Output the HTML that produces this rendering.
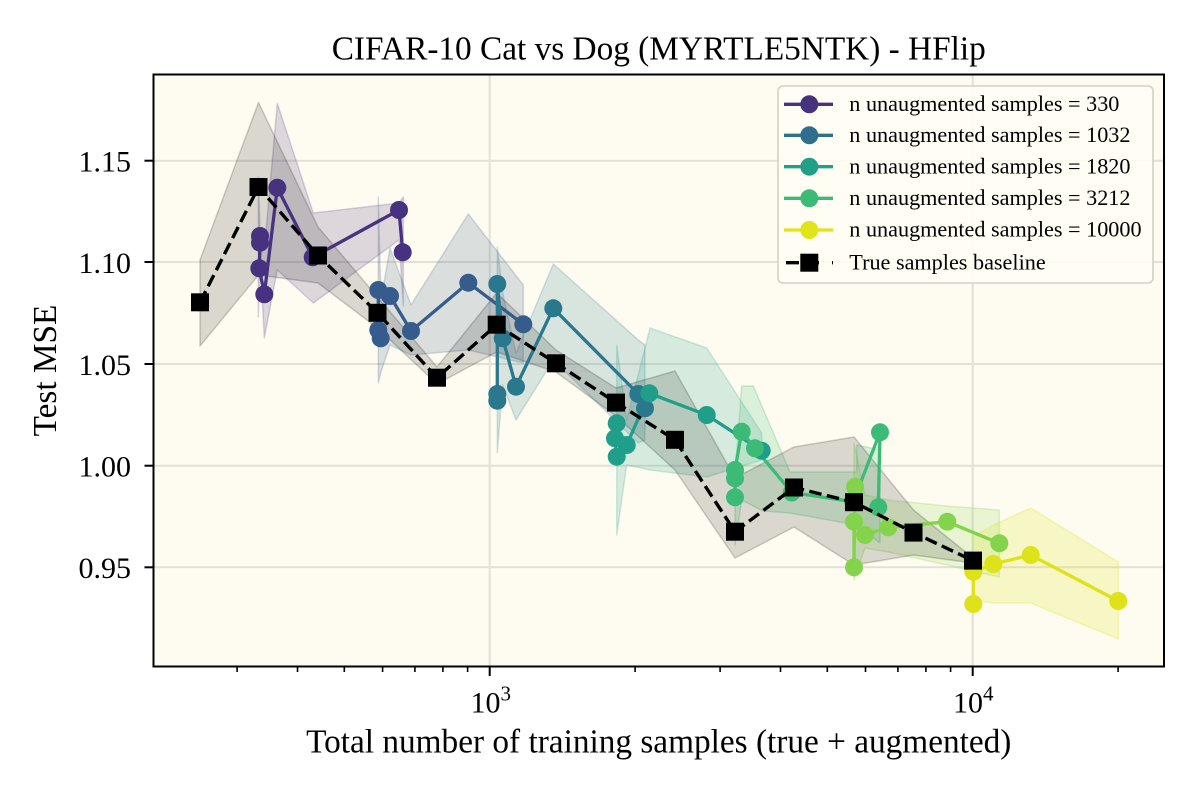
<!DOCTYPE html>
<html><head><meta charset="utf-8"><style>
html,body{margin:0;padding:0;background:#fff;}
svg{display:block;}
text{font-family:"Liberation Serif","Times New Roman",serif;fill:#000;}
</style></head><body>
<svg width="1200" height="800" viewBox="0 0 1200 800" xmlns="http://www.w3.org/2000/svg">
<rect x="0" y="0" width="1200" height="800" fill="#ffffff"/>
<rect x="153.5" y="74.5" width="1010.5" height="592" fill="#fefcf0"/>
<!-- grid -->
<g stroke="#e3e0d7" stroke-width="2">
<line x1="153.5" y1="160.7" x2="1164" y2="160.7"/>
<line x1="153.5" y1="262" x2="1164" y2="262"/>
<line x1="153.5" y1="364" x2="1164" y2="364"/>
<line x1="153.5" y1="465.7" x2="1164" y2="465.7"/>
<line x1="153.5" y1="567.3" x2="1164" y2="567.3"/>
<line x1="489.7" y1="74.5" x2="489.7" y2="666.5"/>
<line x1="972.7" y1="74.5" x2="972.7" y2="666.5"/>
</g>
<!-- bands -->
<g stroke-width="1.5" stroke-linejoin="round">
<polygon fill="#46327e" fill-opacity="0.18" stroke="#46327e" stroke-opacity="0.2" points="258.3,177 260,228 264.3,250 277.3,103.3 313.3,213 399,203 403.3,197 403.3,306 399,240 313.3,303 277.3,270 264.3,338 260,255 258.3,317"/>
<polygon fill="#365c8d" fill-opacity="0.18" stroke="#365c8d" stroke-opacity="0.2" points="378.3,197 381,300 390,248 411,305 468.3,214 523.3,285 523.3,363 468.3,350 411,355 390,345 381,372 378.3,383"/>
<polygon fill="#2a788e" fill-opacity="0.18" stroke="#2a788e" stroke-opacity="0.2" points="497.3,247 502.7,293 516,353 553.3,264 638.3,340 645,345 645,440 638.3,443 553.3,360 516,420 502.7,385 497.3,453"/>
<polygon fill="#1f9e89" fill-opacity="0.18" stroke="#1f9e89" stroke-opacity="0.2" points="616.7,345 626.7,420 650,328 706.7,348 761.7,433 761.7,460 706.7,477 650,470 626.7,465 616.7,535"/>
<polygon fill="#3bbb75" fill-opacity="0.18" stroke="#3bbb75" stroke-opacity="0.25" points="735,475 741.7,386 753.3,386 790,472 856.7,472 856.7,445 880,450 880,543 856.7,525 790,513 763,511 741.7,500 735,545"/>
<polygon fill="#84d44b" fill-opacity="0.18" stroke="#84d44b" stroke-opacity="0.25" points="854,443 865,495 888.3,500 946.7,506 999.3,510 999.3,577 946.7,565 888.3,552 865,548 854,580"/>
<polygon fill="#dde318" fill-opacity="0.2" stroke="#dde318" stroke-opacity="0.25" points="973.3,537 993.3,525 1030.7,508 1118.3,562 1118.3,639 1030.7,603 993.3,603 973.3,600"/>
<polygon fill="#000000" fill-opacity="0.14" stroke="#000000" stroke-opacity="0.18" points="200,260 258.5,102.5 318,227 377.5,297 437,367 496.7,293 556,350 616,388 675,371 735,478 794,447 854,437 913.5,510 973,558 973,563 913.5,555 854,565 794,527 735,558 675,470 616,416 556,372 496.7,352 437,384 377.5,328 318,283 258.5,275 200,346"/>
</g>
<!-- series -->
<g fill="none" stroke-width="3.3" stroke-linejoin="round">
<polyline stroke="#46327e" points="260,236 260,242.7 259.3,268.3 264.3,294.3 277.3,187.7 312.7,257.3 399,210 402.7,252.3"/>
<polyline stroke="#365c8d" points="380.7,338.3 378.3,330 378.3,290 390,296 411,331 468.3,282.7 523.3,324.3"/>
<polyline stroke="#2a788e" points="497.3,400.7 497.3,394 497.3,284 502.7,338.3 516,386.7 553.3,308.3 638.3,394 645,408.3"/>
<polyline stroke="#1f9e89" points="616.7,423.3 615,438.3 616.7,456.7 626.7,445 649.3,393.3 706.7,415 761.7,450.7"/>
<polyline stroke="#3bbb75" points="735,497.3 735,478.3 735,470 741.7,431.7 755,448.3 791.7,492.5 853.3,501.7 880,432.3 878.3,507.3"/>
<polyline stroke="#84d44b" points="855,486.7 854,567.3 854,521.7 865,535 888.3,527.3 947.3,521.7 999.3,543.3"/>
<polyline stroke="#dde318" points="973.3,604 973.3,571.7 993.3,564 1030.7,555 1118.3,601"/>
</g>
<g fill="#46327e">
<circle cx="260" cy="236" r="9"/><circle cx="260" cy="242.7" r="9"/><circle cx="259.3" cy="268.3" r="9"/><circle cx="264.3" cy="294.3" r="9"/><circle cx="277.3" cy="187.7" r="9"/><circle cx="312.7" cy="257.3" r="9"/><circle cx="399" cy="210" r="9"/><circle cx="402.7" cy="252.3" r="9"/>
</g>
<g fill="#365c8d">
<circle cx="380.7" cy="338.3" r="9"/><circle cx="378.3" cy="330" r="9"/><circle cx="378.3" cy="290" r="9"/><circle cx="390" cy="296" r="9"/><circle cx="411" cy="331" r="9"/><circle cx="468.3" cy="282.7" r="9"/><circle cx="523.3" cy="324.3" r="9"/>
</g>
<g fill="#2a788e">
<circle cx="497.3" cy="400.7" r="9"/><circle cx="497.3" cy="394" r="9"/><circle cx="497.3" cy="284" r="9"/><circle cx="502.7" cy="338.3" r="9"/><circle cx="516" cy="386.7" r="9"/><circle cx="553.3" cy="308.3" r="9"/><circle cx="638.3" cy="394" r="9"/><circle cx="645" cy="408.3" r="9"/>
</g>
<g fill="#1f9e89">
<circle cx="616.7" cy="423.3" r="9"/><circle cx="615" cy="438.3" r="9"/><circle cx="616.7" cy="456.7" r="9"/><circle cx="626.7" cy="445" r="9"/><circle cx="649.3" cy="393.3" r="9"/><circle cx="706.7" cy="415" r="9"/><circle cx="761.7" cy="450.7" r="9"/>
</g>
<g fill="#3bbb75">
<circle cx="735" cy="497.3" r="9"/><circle cx="735" cy="478.3" r="9"/><circle cx="735" cy="470" r="9"/><circle cx="741.7" cy="431.7" r="9"/><circle cx="755" cy="448.3" r="9"/><circle cx="791.7" cy="492.5" r="9"/><circle cx="853.3" cy="501.7" r="9"/><circle cx="880" cy="432.3" r="9"/><circle cx="878.3" cy="507.3" r="9"/>
</g>
<g fill="#84d44b">
<circle cx="855" cy="486.7" r="9"/><circle cx="854" cy="567.3" r="9"/><circle cx="854" cy="521.7" r="9"/><circle cx="865" cy="535" r="9"/><circle cx="888.3" cy="527.3" r="9"/><circle cx="947.3" cy="521.7" r="9"/><circle cx="999.3" cy="543.3" r="9"/>
</g>
<g fill="#dde318">
<circle cx="973.3" cy="604" r="9"/><circle cx="973.3" cy="571.7" r="9"/><circle cx="993.3" cy="564" r="9"/><circle cx="1030.7" cy="555" r="9"/><circle cx="1118.3" cy="601" r="9"/>
</g>
<!-- baseline -->
<polyline fill="none" stroke="#000" stroke-width="3.4" stroke-dasharray="12.5 5.5" points="200,302.3 258.5,187 318,255.5 377.5,312.8 437,377.7 496.7,324.7 556,363.3 616,402.6 675,439.8 735,531.7 794,487.5 854,502.2 913.5,532.6 973,560.6"/>
<g fill="#000">
<rect x="191" y="293.3" width="18" height="18"/><rect x="249.5" y="178" width="18" height="18"/><rect x="309" y="246.5" width="18" height="18"/><rect x="368.5" y="303.8" width="18" height="18"/><rect x="428" y="368.7" width="18" height="18"/><rect x="487.7" y="315.7" width="18" height="18"/><rect x="547" y="354.3" width="18" height="18"/><rect x="607" y="393.6" width="18" height="18"/><rect x="666" y="430.8" width="18" height="18"/><rect x="726" y="522.7" width="18" height="18"/><rect x="785" y="478.5" width="18" height="18"/><rect x="845" y="493.2" width="18" height="18"/><rect x="904.5" y="523.6" width="18" height="18"/><rect x="964" y="551.6" width="18" height="18"/>
</g>
<!-- axes frame -->
<rect x="153.5" y="74.5" width="1010.5" height="592" fill="none" stroke="#000" stroke-width="2"/>
<!-- ticks -->
<g stroke="#000" stroke-width="2">
<line x1="144.5" y1="160.7" x2="153.5" y2="160.7"/>
<line x1="144.5" y1="262" x2="153.5" y2="262"/>
<line x1="144.5" y1="364" x2="153.5" y2="364"/>
<line x1="144.5" y1="465.7" x2="153.5" y2="465.7"/>
<line x1="144.5" y1="567.3" x2="153.5" y2="567.3"/>
<line x1="489.7" y1="666.5" x2="489.7" y2="676"/>
<line x1="972.7" y1="666.5" x2="972.7" y2="676"/>
</g>
<g stroke="#000" stroke-width="1.6">
<line x1="237.1" y1="666.5" x2="237.1" y2="672"/>
<line x1="297.5" y1="666.5" x2="297.5" y2="672"/>
<line x1="344.3" y1="666.5" x2="344.3" y2="672"/>
<line x1="382.6" y1="666.5" x2="382.6" y2="672"/>
<line x1="414.9" y1="666.5" x2="414.9" y2="672"/>
<line x1="442.9" y1="666.5" x2="442.9" y2="672"/>
<line x1="467.6" y1="666.5" x2="467.6" y2="672"/>
<line x1="635.1" y1="666.5" x2="635.1" y2="672"/>
<line x1="720.1" y1="666.5" x2="720.1" y2="672"/>
<line x1="780.5" y1="666.5" x2="780.5" y2="672"/>
<line x1="827.3" y1="666.5" x2="827.3" y2="672"/>
<line x1="865.5" y1="666.5" x2="865.5" y2="672"/>
<line x1="897.9" y1="666.5" x2="897.9" y2="672"/>
<line x1="925.9" y1="666.5" x2="925.9" y2="672"/>
<line x1="950.6" y1="666.5" x2="950.6" y2="672"/>
<line x1="1118.1" y1="666.5" x2="1118.1" y2="672"/>
</g>
<!-- tick labels -->
<g font-size="30" text-anchor="end">
<text x="131" y="171.5">1.15</text>
<text x="131" y="272.8">1.10</text>
<text x="131" y="374.8">1.05</text>
<text x="131" y="476.5">1.00</text>
<text x="131" y="578">0.95</text>
</g>
<g font-size="30">
<text x="470.5" y="712.7">10<tspan font-size="21" dy="-12">3</tspan></text>
<text x="953" y="712.7">10<tspan font-size="21" dy="-12">4</tspan></text>
</g>
<!-- labels -->
<text x="658.75" y="59.5" font-size="33.3" text-anchor="middle">CIFAR-10 Cat vs Dog (MYRTLE5NTK) - HFlip</text>
<text x="658.75" y="752.7" font-size="33.3" text-anchor="middle">Total number of training samples (true + augmented)</text>
<text transform="translate(56,370.5) rotate(-90)" font-size="33.3" text-anchor="middle">Test MSE</text>
<!-- legend -->
<rect x="778" y="86" width="375" height="197" rx="5" ry="5" fill="#fffdf4" fill-opacity="0.85" stroke="#d2d0ca" stroke-width="1.6"/>
<g stroke-width="3.3">
<line x1="784" y1="104.3" x2="833" y2="104.3" stroke="#46327e"/>
<line x1="784" y1="135.3" x2="833" y2="135.3" stroke="#2e6f8e"/>
<line x1="784" y1="166.7" x2="833" y2="166.7" stroke="#21a087"/>
<line x1="784" y1="198.3" x2="833" y2="198.3" stroke="#3bbb75"/>
<line x1="784" y1="230" x2="833" y2="230" stroke="#e0e418"/>
<line x1="786" y1="262.7" x2="833" y2="262.7" stroke="#000" stroke-dasharray="13 17 3"/>
</g>
<circle cx="809.3" cy="104.3" r="9" fill="#46327e"/>
<circle cx="809.3" cy="135.3" r="9" fill="#2e6f8e"/>
<circle cx="809.3" cy="166.7" r="9" fill="#21a087"/>
<circle cx="809.3" cy="198.3" r="9" fill="#3bbb75"/>
<circle cx="809.3" cy="230" r="9" fill="#e0e418"/>
<rect x="800.3" y="253.7" width="18" height="18" fill="#000"/>
<g font-size="22.2">
<text x="849.3" y="111">n unaugmented samples = 330</text>
<text x="849.3" y="142">n unaugmented samples = 1032</text>
<text x="849.3" y="173.4">n unaugmented samples = 1820</text>
<text x="849.3" y="205">n unaugmented samples = 3212</text>
<text x="849.3" y="236.7">n unaugmented samples = 10000</text>
<text x="849.3" y="269.4">True samples baseline</text>
</g>
</svg>
</body></html>
